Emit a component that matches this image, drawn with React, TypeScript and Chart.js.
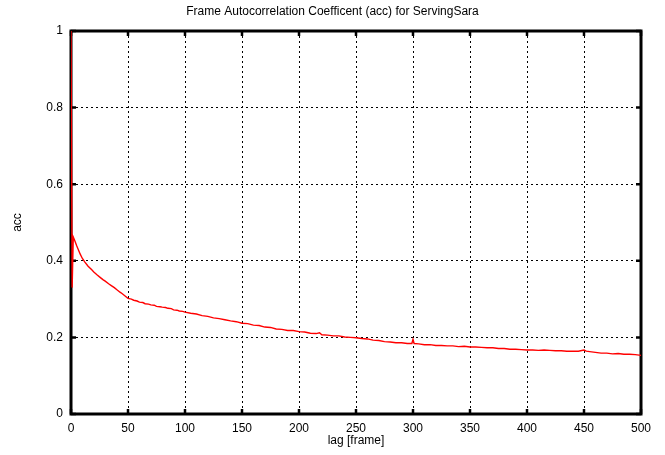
import { useEffect, useRef } from "react";
import { Chart, registerables } from "chart.js";

Chart.register(...registerables);

const chartTitle = "Frame Autocorrelation Coefficent (acc) for ServingSara";
const xAxisLabel = "lag [frame]";
const yAxisLabel = "acc";

const lags = [
  0, 1, 2, 3, 4, 5, 6, 7, 8, 9, 10, 12, 15, 18, 20, 23, 25, 28, 30, 33, 35, 38, 40, 43, 45, 48, 50,
  53, 55, 58, 60, 63, 65, 68, 70, 73, 75, 78, 80, 83, 85, 88, 90, 93, 95, 98, 100,
  105, 110, 115, 120, 125, 130, 135, 140, 145, 150, 155, 160, 165, 170, 175, 180, 185, 190, 195, 200,
  205, 210, 215, 218, 220, 225, 230, 235, 240, 245, 250, 255, 260, 265, 270, 275, 280, 285, 290, 295,
  299, 300, 301, 305, 310, 315, 320, 325, 330, 335, 340, 345, 350, 355, 360, 365, 370, 375, 380, 385,
  390, 395, 400, 405, 410, 415, 420, 425, 430, 435, 440, 445, 450, 452, 455, 460, 465, 470, 475, 480,
  485, 490, 495, 500,
];

const accValues = [
  1.0, 0.33, 0.462, 0.455, 0.447, 0.439, 0.432, 0.425, 0.418, 0.412, 0.406, 0.397, 0.386, 0.377, 0.371,
  0.363, 0.358, 0.351, 0.347, 0.34, 0.336, 0.33, 0.325, 0.318, 0.314, 0.307, 0.302,
  0.3, 0.297, 0.295, 0.292, 0.291, 0.288, 0.287, 0.285, 0.284, 0.281, 0.28, 0.279, 0.278, 0.276, 0.275,
  0.272, 0.271, 0.269, 0.268, 0.266,
  0.263, 0.261, 0.257, 0.255, 0.251, 0.249, 0.246, 0.243, 0.241, 0.237, 0.236, 0.232, 0.231, 0.227, 0.226,
  0.222, 0.221, 0.218, 0.218, 0.215,
  0.214, 0.211, 0.21, 0.212, 0.207, 0.206, 0.204, 0.204, 0.201, 0.2, 0.199, 0.197, 0.196, 0.193, 0.192,
  0.189, 0.188, 0.186, 0.186, 0.184,
  0.184, 0.195, 0.184, 0.183, 0.181, 0.181, 0.179, 0.179, 0.178, 0.178, 0.176, 0.177, 0.175, 0.175, 0.174,
  0.173, 0.173, 0.171, 0.171, 0.169,
  0.169, 0.168, 0.167, 0.167, 0.166, 0.167, 0.166, 0.165, 0.165, 0.164, 0.164, 0.164, 0.167, 0.164, 0.163,
  0.161, 0.159, 0.159, 0.157, 0.158,
  0.156, 0.156, 0.155, 0.153,
];

const xMin = 0;
const xMax = 500;
const xStep = 50;
const yMin = 0;
const yMax = 1;
const yStep = 0.2;

const FONT = "'Liberation Sans', Arial, Helvetica, sans-serif";

const framePlugin = {
  id: "gnuFrame",
  beforeDatasetsDraw(chart: any) {
    const { ctx, chartArea } = chart;
    const { left, right, top, bottom } = chartArea;
    const xs = chart.scales.x;
    const ys = chart.scales.y;
    ctx.save();
    ctx.strokeStyle = "#000";
    ctx.lineWidth = 3;
    ctx.setLineDash([]);
    ctx.strokeRect(left, top, right - left, bottom - top);
    ctx.lineWidth = 2.5;
    const tl = 5;
    ctx.beginPath();
    xs.ticks.forEach((t: any) => {
      const px = xs.getPixelForValue(t.value);
      ctx.moveTo(px, bottom);
      ctx.lineTo(px, bottom - tl);
      ctx.moveTo(px, top);
      ctx.lineTo(px, top + tl);
    });
    ys.ticks.forEach((t: any) => {
      const py = ys.getPixelForValue(t.value);
      ctx.moveTo(left, py);
      ctx.lineTo(left + tl, py);
      ctx.moveTo(right, py);
      ctx.lineTo(right - tl, py);
    });
    ctx.stroke();
    ctx.restore();
  },
  afterDraw(chart: any) {
    const { ctx, chartArea } = chart;
    ctx.save();
    ctx.fillStyle = "#000";
    ctx.font = `12px ${FONT}`;
    ctx.textAlign = "center";
    ctx.textBaseline = "middle";
    ctx.fillText(chartTitle, chart.width / 2, 12);
    ctx.fillText(xAxisLabel, (chartArea.left + chartArea.right) / 2, 441);
    ctx.translate(18, (chartArea.top + chartArea.bottom) / 2);
    ctx.rotate(-Math.PI / 2);
    ctx.fillText(yAxisLabel, 0, 0);
    ctx.restore();
  },
};

export default function App() {
  const ref = useRef<HTMLCanvasElement | null>(null);

  useEffect(() => {
    if (!ref.current) return;
    const points = lags.map((l, i) => ({ x: l, y: accValues[i] }));
    const chart = new Chart(ref.current, {
      type: "line",
      data: {
        datasets: [
          {
            label: "acc",
            data: points,
            borderColor: "#ff0000",
            borderWidth: 1.4,
            pointRadius: 0,
            tension: 0,
            fill: false,
          },
        ],
      },
      options: {
        animation: false,
        responsive: false,
        maintainAspectRatio: false,
        layout: { padding: { left: 0, right: 24, top: 31, bottom: 0 } },
        plugins: {
          legend: { display: false },
          tooltip: { enabled: false },
          title: { display: false },
        },
        scales: {
          x: {
            type: "linear",
            min: xMin,
            max: xMax,
            afterFit(scale: any) {
              scale.height = 41;
            },
            ticks: {
              stepSize: xStep,
              padding: 7,
              color: "#000",
              font: { family: FONT, size: 12 },
              maxRotation: 0,
            },
            grid: { color: "#000", lineWidth: 1, drawTicks: false },
            border: { display: false, dash: [2, 3] },
          },
          y: {
            type: "linear",
            min: yMin,
            max: yMax,
            afterFit(scale: any) {
              scale.width = 71;
            },
            ticks: {
              stepSize: yStep,
              padding: 8,
              color: "#000",
              font: { family: FONT, size: 12 },
              callback: (v: any) => String(Math.round(Number(v) * 10) / 10),
            },
            grid: { color: "#000", lineWidth: 1, drawTicks: false },
            border: { display: false, dash: [2, 3] },
          },
        },
      },
      plugins: [framePlugin],
    });
    return () => chart.destroy();
  }, []);

  return (
    <div style={{ position: "fixed", left: 0, top: 0, width: 665, height: 455, background: "#fff" }}>
      <canvas ref={ref} width={665} height={455} style={{ width: 665, height: 455 }} />
    </div>
  );
}
